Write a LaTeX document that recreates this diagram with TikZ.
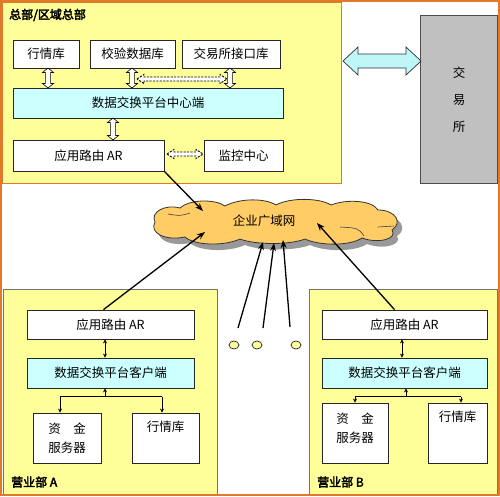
\documentclass[tikz,border=0pt]{standalone}
\usepackage{fontspec}
\setmainfont{Noto Sans CJK SC}
\newfontfamily\hdfont[FakeBold=3]{Noto Sans CJK SC}
\usetikzlibrary{shapes.geometric,arrows.meta,calc}
\definecolor{yel}{HTML}{FFFF99}
\definecolor{cyl}{HTML}{CCFFFF}
\definecolor{gry}{HTML}{C0C0C0}
\definecolor{cld}{HTML}{FFCC66}
\definecolor{org}{HTML}{E07A2A}
\definecolor{bcy}{HTML}{BFF6F8}
\newcommand\vblock[6]{% x, ytop, ybot, halfshaft, halfhead, headlen
  \draw[blockarr] (#1,#2) -- ({#1+#5},{#2+#6}) -- ({#1+#4},{#2+#6}) -- ({#1+#4},{#3-#6}) -- ({#1+#5},{#3-#6}) -- (#1,#3)
   -- ({#1-#5},{#3-#6}) -- ({#1-#4},{#3-#6}) -- ({#1-#4},{#2+#6}) -- ({#1-#5},{#2+#6}) -- cycle;}
\newcommand\hblock[7]{% y, xleft, xright, halfshaft, halfhead, headlen, style
  \draw[#7] (#2,#1) -- ({#2+#6},{#1-#5}) -- ({#2+#6},{#1-#4}) -- ({#3-#6},{#1-#4}) -- ({#3-#6},{#1-#5}) -- (#3,#1)
   -- ({#3-#6},{#1+#5}) -- ({#3-#6},{#1+#4}) -- ({#2+#6},{#1+#4}) -- ({#2+#6},{#1+#5}) -- cycle;}
\newcommand\cloudoutline{(155,222)
  .. controls (150,212) and (165,204) .. (180,208)
  .. controls (190,199) and (215,199) .. (225,206)
  .. controls (240,198) and (265,198) .. (276,205)
  .. controls (291,197) and (320,198) .. (331,205)
  .. controls (346,199) and (372,200) .. (378,210)
  .. controls (396,210) and (403,223) .. (392,230)
  .. controls (398,239) and (378,244) .. (362,238)
  .. controls (350,246) and (320,246) .. (305,239)
  .. controls (290,245) and (255,245) .. (240,239)
  .. controls (225,246) and (195,246) .. (185,237)
  .. controls (165,241) and (149,233) .. cycle}
\begin{document}
\begin{tikzpicture}[x=1pt,y=-1pt,
  every node/.style={inner sep=0pt,font=\fontsize{12.5}{14}\selectfont},
  bx/.style={draw=black!85,fill=white,line width=0.8pt},
  cyb/.style={draw=black!85,fill=cyl,line width=0.8pt},
  grp/.style={draw=black!55,fill=yel,line width=0.8pt},
  lbl/.style={font=\hdfont\fontsize{12}{14}\selectfont,anchor=west},
  blockarr/.style={draw=black,fill=white,line width=0.6pt},
  dashblk/.style={draw=black,fill=white,line width=0.9pt,dash pattern=on 2.2pt off 1.2pt},
  link/.style={-{Stealth[length=8pt,width=6pt]},line width=1.3pt},
  tiny/.style={-{Stealth[length=4pt,width=4pt]},line width=1pt},
  tiny2/.style={{Stealth[length=4pt,width=4pt]}-{Stealth[length=4pt,width=4pt]},line width=1pt}]
\useasboundingbox (0,0) rectangle (500,496);
\fill[white] (0,0) rectangle (500,496);
% headquarters
\node[draw=org,fill=yel,line width=1pt,minimum width=339,minimum height=181] (hq) at (171.5,92.5) {};
\node[lbl] (hqlbl) at (9,15) {总部/区域总部};
\node[bx,minimum width=66,minimum height=28] (q1) at (46,54) {行情库};
\node[bx,minimum width=85,minimum height=28] (q2) at (132.5,54) {校验数据库};
\node[bx,minimum width=98,minimum height=28] (q3) at (231,54) {交易所接口库};
\node[cyb,minimum width=270,minimum height=30] (ctr) at (148,103) {数据交换平台中心端};
\node[bx,minimum width=151,minimum height=31] (ar) at (88.5,155.5) {应用路由 AR};
\node[bx,minimum width=79,minimum height=31] (mon) at (243.5,155.5) {监控中心};
\vblock{48}{68}{88}{2.6}{5.5}{4.5}
\vblock{132}{68}{88}{2.6}{5.5}{4.5}
\vblock{230}{68}{88}{2.6}{5.5}{4.5}
\vblock{113}{118}{140}{2.6}{5.5}{4.5}
\hblock{79}{137}{227}{2}{4.5}{7}{dashblk}
\hblock{154}{167}{203}{2}{4.5}{7}{dashblk}
% exchange
\node[draw=black!70,fill=gry,line width=0.8pt,minimum width=77,minimum height=168] (ex) at (458.5,99) {};
\node[align=center,font=\fontsize{12.5}{27}\selectfont] (extxt) at (459,100) {交\\易\\所};
\hblock{61}{343}{421}{7}{14}{15}{draw=black!80,fill=bcy,line width=0.7pt}
% cloud
\fill[black!40,shift={(5,6)}] \cloudoutline;
\draw[black!80,fill=cld,line width=0.8pt] \cloudoutline;
\draw[black!75,line width=0.6pt] (168,214) .. controls (180,216) .. (190,213);
\draw[black!75,line width=0.6pt] (340,227) .. controls (358,228) .. (364,236);
\draw[black!75,line width=0.6pt] (378,227) -- (394,226);
\node (wantxt) at (264,221) {企业广域网};
% branch A
\node[grp,minimum width=214,minimum height=205] (ga) at (110,391.5) {};
\node[lbl] (galbl) at (11,482) {营业部 A};
\node[bx,minimum width=167,minimum height=29] (arA) at (110.5,324.5) {应用路由 AR};
\node[cyb,minimum width=167,minimum height=30] (clA) at (110.5,373) {数据交换平台客户端};
\node[bx,minimum width=68,minimum height=50,align=center,font=\fontsize{12.5}{19}\selectfont] (fundA) at (67,438) {资\hspace{1em}金\\服务器};
\node[bx,minimum width=67,minimum height=50] (hqA) at (165.5,438) {};
\node (hqAt) at (165.5,427) {行情库};
\coordinate (jA) at (105,397);
\draw[tiny2] ($(arA.south)+(-5.5,0)$) -- ($(clA.north)+(-5.5,0)$);
\draw[tiny] (jA) -- ($(clA.south)+(-5.5,0)$);
\draw[line width=1pt] ($(fundA.north)+(-7,-16)$) -- ($(hqA.north)+(-3.5,-16)$);
\draw[tiny] ($(fundA.north)+(-7,-16)$) -- ($(fundA.north)+(-7,0)$);
\draw[tiny] ($(hqA.north)+(-3.5,-16)$) -- ($(hqA.north)+(-3.5,0)$);
% branch B
\node[grp,minimum width=188,minimum height=205] (gb) at (403,391.5) {};
\node[lbl] (gblbl) at (317,482) {营业部 B};
\node[bx,minimum width=165,minimum height=29] (arB) at (404.5,324.5) {应用路由 AR};
\node[cyb,minimum width=165,minimum height=30] (clB) at (404.5,373) {数据交换平台客户端};
\node[bx,minimum width=66,minimum height=60] (fundB) at (355,433) {};
\node[align=center,font=\fontsize{12.5}{19}\selectfont] (fundBt) at (355,428) {资\hspace{1em}金\\服务器};
\node[bx,minimum width=59,minimum height=60] (hqB) at (457.5,433) {};
\node (hqBt) at (457.5,417) {行情库};
\coordinate (jB) at (406,397);
\draw[tiny2] ($(arB.south)+(-2.5,0)$) -- ($(clB.north)+(-2.5,0)$);
\draw[tiny] (jB) -- ($(clB.south)+(1.5,0)$);
\draw[line width=1pt] ($(fundB.north)+(0,-6)$) -- ($(hqB.north)+(3.5,-6)$);
\draw[tiny] ($(fundB.north)+(0,-6)$) -- (fundB.north);
\draw[tiny] ($(hqB.north)+(3.5,-6)$) -- ($(hqB.north)+(3.5,0)$);
% dots
\node[ellipse,draw=black!85,fill=yel,line width=0.7pt,minimum width=10,minimum height=8] (d1) at (234,345) {};
\node[ellipse,draw=black!85,fill=yel,line width=0.7pt,minimum width=10,minimum height=8] (d2) at (257,345) {};
\node[ellipse,draw=black!85,fill=yel,line width=0.7pt,minimum width=10,minimum height=8] (d3) at (296,345) {};
\coordinate (s1) at (238,328);
\coordinate (s2) at (263,328);
\coordinate (s3) at (290,327);
% links to cloud
\coordinate (e0) at (203,211);
\coordinate (e1) at (205,232);
\coordinate (e2) at (263,242);
\coordinate (e3) at (274,243);
\coordinate (e4) at (283,240);
\coordinate (e5) at (317,223);
\draw[link] (ar.south east) -- (e0);
\draw[link] ($(arA.north)+(-7,0)$) -- (e1);
\draw[link] (s1) -- (e2);
\draw[link] (s2) -- (e3);
\draw[link] (s3) -- (e4);
\draw[link] ($(arB.north)+(-10,0)$) -- (e5);
% outer frame
\draw[org,line width=2pt] (1,1) rectangle (499,495);
\end{tikzpicture}
\end{document}
